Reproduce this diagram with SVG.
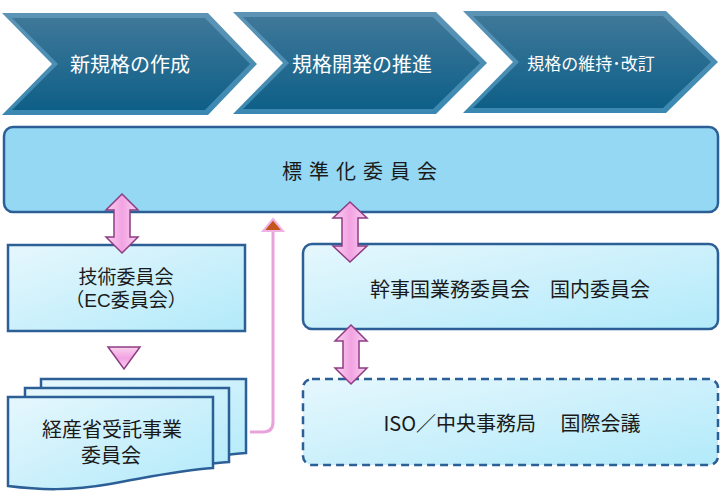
<svg xmlns="http://www.w3.org/2000/svg" width="720" height="491" viewBox="0 0 720 491" lang="ja">
<defs>
<linearGradient id="chevBevel" x1="0" y1="0" x2="0" y2="1">
<stop offset="0" stop-color="#5d94b6"/>
<stop offset="1" stop-color="#3a88b1"/>
</linearGradient>
<linearGradient id="chevFill" x1="0" y1="0" x2="0" y2="1">
<stop offset="0" stop-color="#3f7899"/>
<stop offset="1" stop-color="#0e5f88"/>
</linearGradient>
<linearGradient id="boxFill" x1="0" y1="0" x2="1" y2="1">
<stop offset="0" stop-color="#e6f7fd"/>
<stop offset="1" stop-color="#b2eafa"/>
</linearGradient>
<linearGradient id="pinkFill" x1="0" y1="0" x2="1" y2="0">
<stop offset="0" stop-color="#f9d2ef"/>
<stop offset="0.5" stop-color="#f2a2e2"/>
<stop offset="1" stop-color="#f9d2ef"/>
</linearGradient>
<linearGradient id="pinkFillV" x1="0" y1="0" x2="0" y2="1">
<stop offset="0" stop-color="#f9d2ef"/>
<stop offset="0.5" stop-color="#f2a2e2"/>
<stop offset="1" stop-color="#f9d2ef"/>
</linearGradient>
</defs>
<style>
.chevOuter { fill: url(#chevBevel); }
.chevInner { fill: url(#chevFill); }
.chevText { font-family: "Noto Sans CJK JP", "Noto Sans", sans-serif; fill: #ffffff; dominant-baseline: central; text-anchor: middle; }
.box { fill: url(#boxFill); stroke: #2b5f96; stroke-width: 2.5; }
.mainBox { fill: #94d8f4; stroke: #2b5f96; stroke-width: 2.5; }
.dashed { stroke-dasharray: 8 5; }
.label { font-family: "Noto Sans CJK JP", "Noto Sans", sans-serif; fill: #1a1a1a; dominant-baseline: central; text-anchor: middle; }
.label2 { font-family: "Liberation Sans", "Noto Sans CJK JP", sans-serif; fill: #1a1a1a; text-anchor: middle; }
.dbl { fill: url(#pinkFill); stroke: #8e3c84; stroke-width: 1.5; stroke-linejoin: miter; }
.tri { fill: url(#pinkFillV); stroke: #8e3c84; stroke-width: 1.5; }
.conn { fill: none; stroke: #e8a2dc; stroke-width: 3; }
.connHead { fill: #c4561c; stroke: #f0b2e4; stroke-width: 2; }
</style>

<g id="chevron-1">
<polygon class="chevOuter" points="2,13 208,13 257,64 208,115 2,115 52,64"/>
<polygon class="chevInner" points="12,18 205,18 250,64 205,110 12,110 58,64"/>
<text class="chevText" x="130" y="63" font-size="20">新規格の作成</text>
</g>
<g id="chevron-2">
<polygon class="chevOuter" points="233,12 436,12 487,63 436,114 233,114 283,63"/>
<polygon class="chevInner" points="243,17 433,17 480,63 433,109 243,109 289,63"/>
<text class="chevText" x="362" y="63" font-size="20">規格開発の推進</text>
</g>
<g id="chevron-3">
<polygon class="chevOuter" points="463,11 666,11 718,62 666,113 463,113 513,62"/>
<polygon class="chevInner" points="473,16 663,16 711,62 663,108 473,108 519,62"/>
<text class="chevText" x="591" y="62" font-size="17">規格の維持･改訂</text>
</g>

<g id="standardization-committee">
<rect class="mainBox" x="4" y="127" width="714" height="85" rx="9"/>
<text class="label" x="282" y="170" font-size="20" letter-spacing="7" style="text-anchor:start">標準化委員会</text>
</g>

<g id="technical-committee">
<rect class="box" x="8" y="245" width="237" height="86"/>
<text class="label2" font-size="19"><tspan x="126" y="284">技術委員会</tspan><tspan x="126" y="307">（EC委員会）</tspan></text>
</g>

<g id="meti-committee">
<path class="box" d="M41,379 H246 V453 C213,455 183,462 143,469 C103,476 73,475 41,471 Z"/>
<path class="box" d="M25,388 H229 V462 C196,464 166,471 126,478 C86,485 56,484 25,480 Z"/>
<path class="box" d="M8,397 H213 V468 C180,470 150,477 110,484 C70,491 40,490 8,486 Z"/>
<text class="label2" font-size="20"><tspan x="112" y="437">経産省受託事業</tspan><tspan x="111" y="463">委員会</tspan></text>
</g>

<g id="secretariat-committee">
<rect class="box" x="303" y="244" width="415" height="85" rx="9"/>
<text class="label" x="510" y="288" font-size="20">幹事国業務委員会　国内委員会</text>
</g>

<g id="iso-meeting">
<rect class="box dashed" x="303" y="379" width="415" height="86" rx="9"/>
<text class="label" x="512" y="422" font-size="20">ISO／中央事務局　 国際会議</text>
</g>

<g id="connectors">
<path class="conn" d="M250,432 H263 Q273,432 273,422 V231"/>
<polygon class="connHead" points="273,219 283,231 263,231"/>
<path class="dbl" d="M122,194 L138,210 L130,210 L130,237 L138,237 L122,253 L106,237 L114,237 L114,210 L106,210 Z"/>
<path class="dbl" d="M350,202 L367,218 L358,218 L358,246 L367,246 L350,262 L333,246 L342,246 L342,218 L333,218 Z"/>
<path class="dbl" d="M351,325 L367,341 L359,341 L359,368 L367,368 L351,384 L335,368 L343,368 L343,341 L335,341 Z"/>
<polygon class="tri" points="108,347 140,347 124,369"/>
</g>
</svg>
